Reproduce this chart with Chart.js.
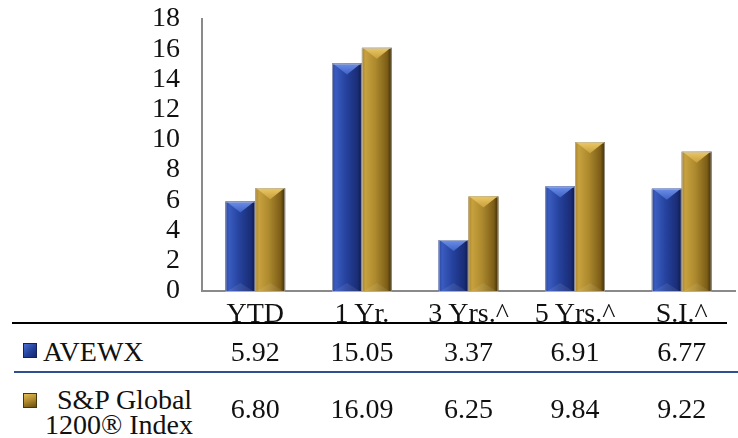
<!DOCTYPE html>
<html>
<head>
<meta charset="utf-8">
<script src="https://cdn.jsdelivr.net/npm/chart.js@4.4.0/dist/chart.umd.min.js"></script>
<style>
  body { margin: 0; background: #fff; width: 738px; height: 438px; overflow: hidden; position: relative;
         font-family: "Liberation Serif", "Times New Roman", serif; color: #111; }
  #wrap { position: absolute; left: 0; top: 0; width: 738px; height: 300px; }
  .cell { position: absolute; font-size: 28px; line-height: 30px; white-space: nowrap; transform: translateX(-50%); }
  .lbl { position: absolute; font-size: 28px; line-height: 30px; white-space: nowrap; }
  .rule { position: absolute; height: 2px; }
  .mark { position: absolute; width: 14px; height: 15px; box-sizing: border-box; }
</style>
</head>
<body>
<div id="wrap"><canvas id="chart" width="738" height="300"></canvas></div>
<div class="rule" style="left:12px;top:322px;width:715px;background:#000"></div>
<div class="rule" style="left:14px;top:371px;width:724px;background:#2f4f95"></div>
<div class="mark" style="left:23px;top:343px;border:1px solid #14215c;background:linear-gradient(135deg,#4d6fd2,#23409a 55%,#16286e)"></div>
<div class="mark" style="left:23px;top:393px;border:1px solid #4a3608;background:linear-gradient(160deg,#e4bd55,#a8832a 55%,#6a4e12)"></div>
<div id="table"></div>
<script>
// chart data
const categories = ['YTD', '1 Yr.', '3 Yrs.^', '5 Yrs.^', 'S.I.^'];
const avewx = [5.92, 15.05, 3.37, 6.91, 6.77];
const spGlobal = [6.80, 16.09, 6.25, 9.84, 9.22];
const seriesLabels = [['AVEWX'], ['S&P Global', '1200® Index']];

// bevel shades for each series
const shades = [
  { edge: '#2a46a0', light: '#3a5cc0', mid: '#26439f', dark: '#1a2d76', darkest: '#0e1848', hi: '#6d8fe8', tip: '#3e62c6' },
  { edge: '#a88328', light: '#c8a13e', mid: '#ad8a2e', dark: '#7c5d17', darkest: '#3a2a06', hi: '#ecc866', tip: '#c89f3c' }
];

// draws the 3D-ish bevelled bars over the plain ones
const bevelBars = {
  id: 'bevelBars',
  afterDatasetsDraw(chart) {
    const ctx = chart.ctx;
    chart.data.datasets.forEach((ds, di) => {
      const c = shades[di];
      chart.getDatasetMeta(di).data.forEach(bar => {
        const w = bar.width, l = bar.x - w / 2, r = bar.x + w / 2;
        const top = bar.y, bot = bar.base;
        ctx.save();
        const g = ctx.createLinearGradient(l, 0, r, 0);
        g.addColorStop(0, c.edge);
        g.addColorStop(0.12, c.light);
        g.addColorStop(0.45, c.mid);
        g.addColorStop(0.85, c.dark);
        g.addColorStop(1, c.darkest);
        ctx.fillStyle = g;
        ctx.fillRect(l, top, w, bot - top);

        const b = Math.min(w / 2, 11);
        ctx.beginPath();
        ctx.moveTo(l + 1, top);
        ctx.lineTo(r - 1, top);
        ctx.lineTo(bar.x, top + b);
        ctx.closePath();
        const tg = ctx.createLinearGradient(0, top, 0, top + b);
        tg.addColorStop(0, c.hi);
        tg.addColorStop(1, c.tip);
        ctx.fillStyle = tg;
        ctx.fill();

        // faint bottom bevel
        ctx.beginPath();
        ctx.moveTo(l + 2, bot);
        ctx.lineTo(r - 2, bot);
        ctx.lineTo(bar.x, bot - 8);
        ctx.closePath();
        ctx.fillStyle = 'rgba(255,255,255,0.08)';
        ctx.fill();

        ctx.strokeStyle = 'rgba(190,190,190,0.7)';
        ctx.lineWidth = 1;
        ctx.strokeRect(l + 0.5, top + 0.5, w - 1, bot - top);
        ctx.restore();
      });
    });
  }
};

const chart = new Chart(document.getElementById('chart'), {
  type: 'bar',
  data: {
    labels: categories,
    datasets: [
      { label: seriesLabels[0].join(' '), data: avewx, backgroundColor: '#26439f', borderWidth: 0 },
      { label: seriesLabels[1].join(' '), data: spGlobal, backgroundColor: '#ad8a2e', borderWidth: 0 }
    ]
  },
  options: {
    responsive: false,
    animation: false,
    datasets: { bar: { categoryPercentage: 0.56, barPercentage: 1 } },
    layout: { padding: { top: 19, right: 3, bottom: 9, left: 0 } },
    plugins: { legend: { display: false }, tooltip: { enabled: false } },
    scales: {
      x: {
        grid: { display: false, drawTicks: false },
        ticks: { display: false },
        border: { color: '#8a8a8a', width: 2 }
      },
      y: {
        min: 0,
        max: 18,
        ticks: { stepSize: 2, autoSkip: false, padding: 22, color: '#111', font: { family: 'Liberation Serif', size: 28 } },
        grid: { display: false, drawTicks: false },
        border: { color: '#8a8a8a', width: 2 },
        afterFit: s => {
          s.width = 202;
          // tick padding would otherwise push the plot in from top and bottom
          s.paddingTop = 0;
          s.paddingBottom = 0;
        }
      }
    }
  },
  plugins: [bevelBars]
});

// table under the chart, columns taken from the x axis
const table = document.getElementById('table');
function addText(cls, txt, x, y) {
  const d = document.createElement('div');
  d.className = cls;
  d.textContent = txt;
  d.style.left = x + 'px';
  d.style.top = y + 'px';
  table.appendChild(d);
}
const xs = chart.scales.x;
categories.forEach((cat, i) => {
  const cx = xs.getPixelForValue(i);
  addText('cell', cat, cx, 298);
  addText('cell', avewx[i].toFixed(2), cx, 337);
  addText('cell', spGlobal[i].toFixed(2), cx, 394);
});
addText('lbl', seriesLabels[0][0], 43, 337);
addText('lbl', seriesLabels[1][0], 57, 385);
addText('lbl', seriesLabels[1][1], 45, 410);
</script>
</body>
</html>
